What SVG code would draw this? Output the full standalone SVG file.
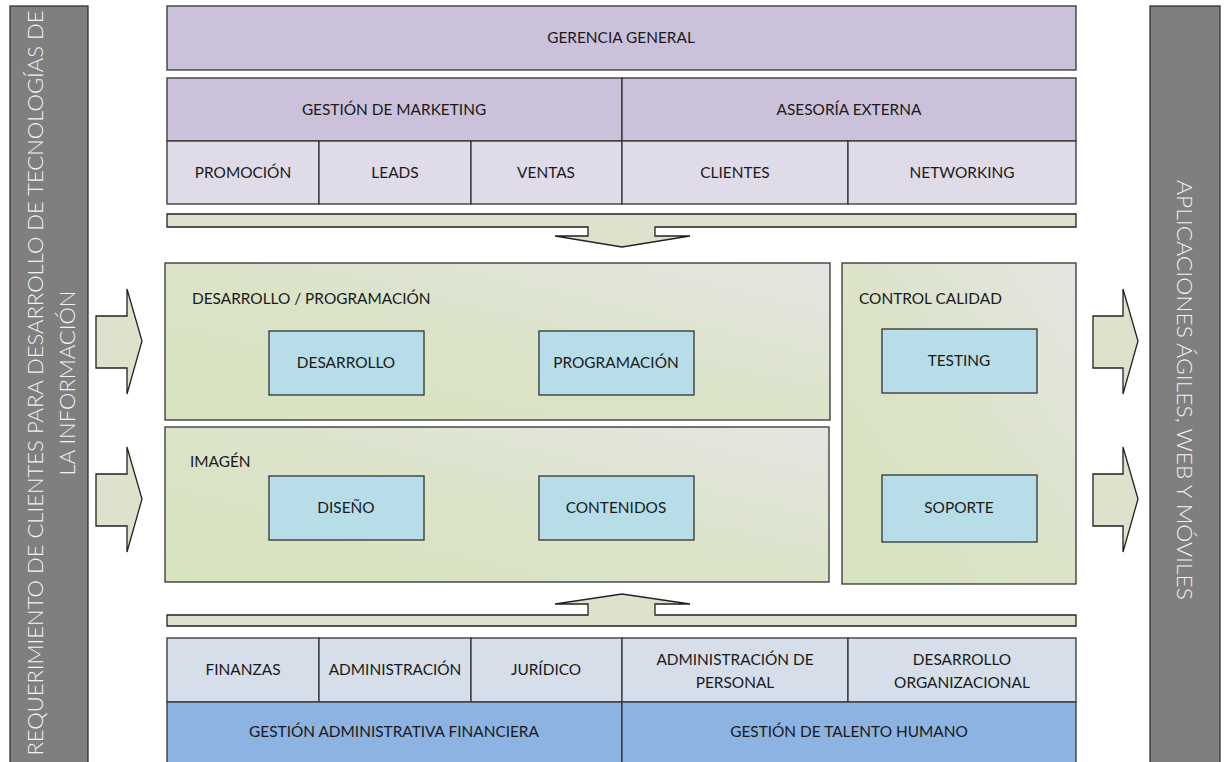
<svg xmlns="http://www.w3.org/2000/svg" width="1226" height="762" viewBox="0 0 1226 762">
<defs>
<linearGradient id="g" x1="0" y1="1" x2="1" y2="0">
<stop offset="0" stop-color="#d7e3bf"/>
<stop offset="0.5" stop-color="#dbe3c9"/>
<stop offset="1" stop-color="#e5e6e2"/>
</linearGradient>
</defs>
<style>
text{font-family:Lato,"Open Sans","Liberation Sans",sans-serif;font-size:15.4px;fill:#1a1a1a;text-anchor:middle}
.s{stroke:#333;stroke-width:1.3}
.p1{fill:#ccc1da}
.p2{fill:#e0dbe8}
.gr{fill:url(#g)}
.bl{fill:#b7dde8}
.lb{fill:#d5dee9}
.db{fill:#8db3e2}
.side{fill:#7f7f7f;stroke:#333;stroke-width:1.3}
.arr{fill:#dde2cc;stroke:#222;stroke-width:1.3}
.w{fill:#f2f2f2;font-size:22px;font-weight:300}
.l{text-anchor:start}
</style>
<g id="side-left">
<rect class="side" x="10" y="6" width="78" height="760"/>
<text class="w" transform="translate(43,383) rotate(-90)" textLength="745" lengthAdjust="spacingAndGlyphs">REQUERIMIENTO DE CLIENTES PARA DESARROLLO DE TECNOLOGÍAS DE</text>
<text class="w" transform="translate(75,383) rotate(-90)">LA INFORMACIÓN</text>
</g>
<g id="side-right">
<rect class="side" x="1150" y="6" width="70" height="760"/>
<text class="w" transform="translate(1177,390) rotate(90)" textLength="420" lengthAdjust="spacingAndGlyphs">APLICACIONES ÁGILES, WEB Y MÓVILES</text>
</g>
<g id="gerencia">
<rect class="s p1" x="167" y="6" width="909" height="64"/>
<text x="621" y="43">GERENCIA GENERAL</text>
</g>
<g id="marketing">
<rect class="s p1" x="167" y="78" width="455" height="63"/>
<text x="394" y="115">GESTIÓN DE MARKETING</text>
</g>
<g id="asesoria">
<rect class="s p1" x="622" y="78" width="454" height="63"/>
<text x="849" y="115">ASESORÍA EXTERNA</text>
</g>
<g id="promocion"><rect class="s p2" x="167" y="141" width="152" height="63"/><text x="243" y="178">PROMOCIÓN</text></g>
<g id="leads"><rect class="s p2" x="319" y="141" width="152" height="63"/><text x="395" y="178">LEADS</text></g>
<g id="ventas"><rect class="s p2" x="471" y="141" width="151" height="63"/><text x="546" y="178">VENTAS</text></g>
<g id="clientes"><rect class="s p2" x="622" y="141" width="226" height="63"/><text x="735" y="178">CLIENTES</text></g>
<g id="networking"><rect class="s p2" x="848" y="141" width="228" height="63"/><text x="962" y="178">NETWORKING</text></g>
<g id="desarrollo-programacion">
<rect class="s gr" x="165" y="263" width="665" height="157"/>
<text class="l" x="192" y="304">DESARROLLO / PROGRAMACIÓN</text>
</g>
<g id="imagen">
<rect class="s gr" x="165" y="427" width="664" height="155"/>
<text class="l" x="190" y="467">IMAGÉN</text>
</g>
<g id="control-calidad">
<rect class="s gr" x="842" y="263" width="234" height="321"/>
<text class="l" x="859" y="304">CONTROL CALIDAD</text>
</g>
<g id="desarrollo"><rect class="s bl" x="269" y="331" width="155" height="64"/><text x="346" y="368">DESARROLLO</text></g>
<g id="programacion"><rect class="s bl" x="539" y="331" width="155" height="64"/><text x="616" y="368">PROGRAMACIÓN</text></g>
<g id="diseno"><rect class="s bl" x="269" y="476" width="155" height="64"/><text x="346" y="513">DISEÑO</text></g>
<g id="contenidos"><rect class="s bl" x="539" y="476" width="155" height="64"/><text x="616" y="513">CONTENIDOS</text></g>
<g id="testing"><rect class="s bl" x="882" y="329" width="155" height="64"/><text x="959" y="366">TESTING</text></g>
<g id="soporte"><rect class="s bl" x="882" y="475" width="155" height="67"/><text x="959" y="513">SOPORTE</text></g>
<g id="finanzas"><rect class="s lb" x="167" y="638" width="152" height="64"/><text x="243" y="675">FINANZAS</text></g>
<g id="administracion"><rect class="s lb" x="319" y="638" width="152" height="64"/><text x="395" y="675">ADMINISTRACIÓN</text></g>
<g id="juridico"><rect class="s lb" x="471" y="638" width="151" height="64"/><text x="546" y="675">JURÍDICO</text></g>
<g id="admin-personal"><rect class="s lb" x="622" y="638" width="226" height="64"/><text x="735" y="665">ADMINISTRACIÓN DE</text><text x="735" y="688">PERSONAL</text></g>
<g id="desarrollo-org"><rect class="s lb" x="848" y="638" width="228" height="64"/><text x="962" y="665">DESARROLLO</text><text x="962" y="688">ORGANIZACIONAL</text></g>
<g id="gestion-admin"><rect class="s db" x="167" y="702" width="455" height="64"/><text x="394" y="737">GESTIÓN ADMINISTRATIVA FINANCIERA</text></g>
<g id="gestion-talento"><rect class="s db" x="622" y="702" width="454" height="64"/><text x="849" y="737">GESTIÓN DE TALENTO HUMANO</text></g>
<g id="connectors">
<path class="arr" d="M167,214 H1076 V227 H655 V236 H690 L622,247 L555,236 H588 V227 H167 Z"/>
<path class="arr" d="M167,615 H588 V604 H555 L622,594 L690,604 H655 V615 H1076 V626 H167 Z"/>
<path class="arr" d="M96,316 H127 V289 L142,341 L127,394 V368 H96 Z"/>
<path class="arr" d="M96,474 H127 V447 L142,499 L127,552 V526 H96 Z"/>
<path class="arr" d="M1093,316 H1123 V289 L1138,341 L1123,394 V368 H1093 Z"/>
<path class="arr" d="M1093,474 H1123 V447 L1138,499 L1123,552 V526 H1093 Z"/>
</g>
</svg>
